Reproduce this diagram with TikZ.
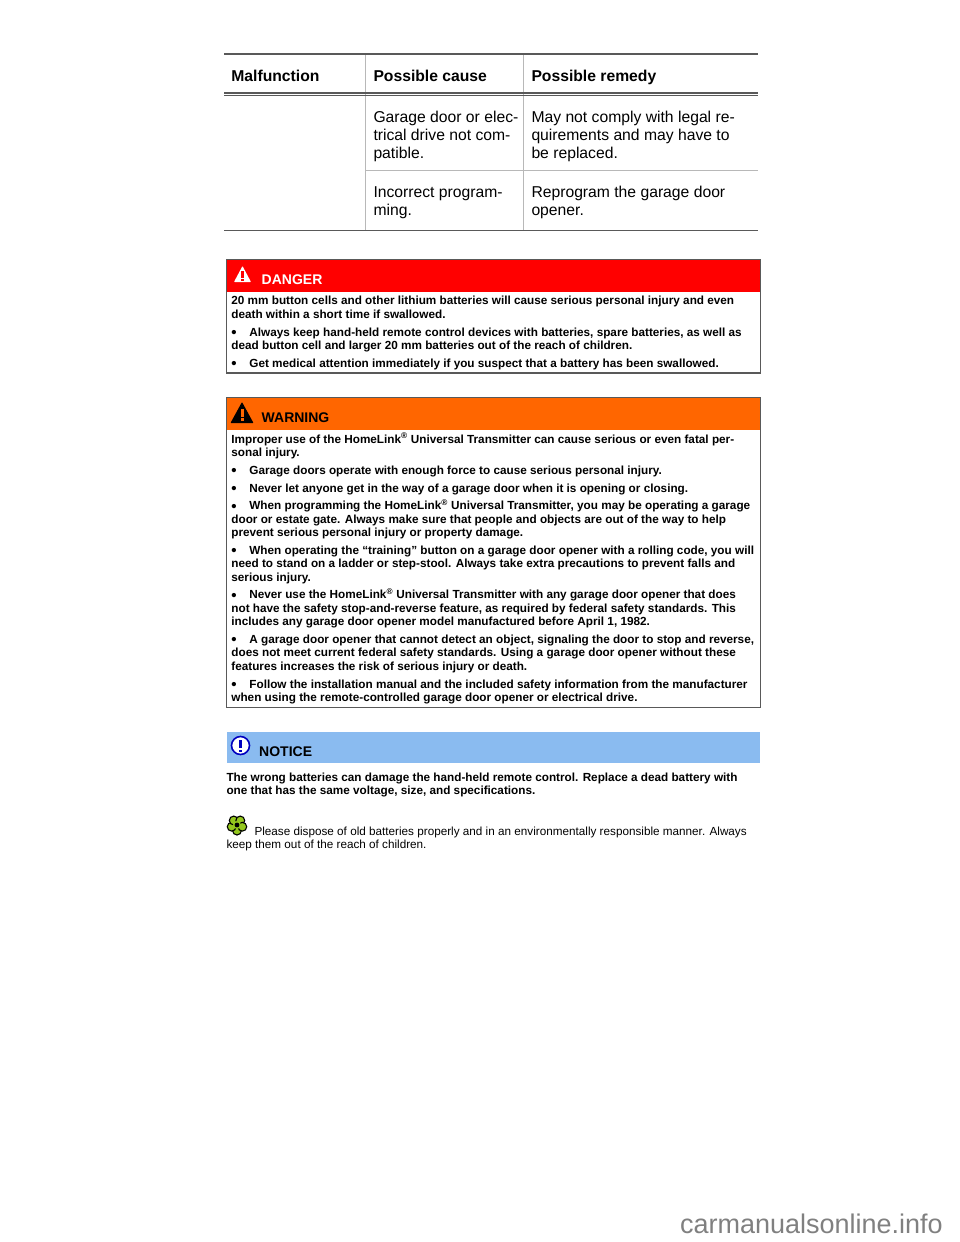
\documentclass[tikz,border=0pt]{standalone}
\usepackage{fontspec}
\setmainfont{Liberation Sans}
\definecolor{dangerred}{HTML}{FF0000}
\definecolor{warnorange}{HTML}{FF6600}
\definecolor{noticeblue}{HTML}{8ABBF0}
\definecolor{leafgreen}{HTML}{94C71E}
\newcommand{\bul}{\makebox[18pt][l]{\raisebox{-1.8pt}{\fontsize{15}{13.5}\selectfont\textbullet}}}
\newcommand{\regm}{\textsuperscript{\textregistered}}
\begin{document}
\begin{tikzpicture}[
	x=1pt,y=-1pt,
	tablehead/.style={anchor=base west,inner sep=0pt,font=\fontsize{15.7}{18}\selectfont\bfseries},
	tablecell/.style={anchor=base west,inner sep=0pt,align=left,font=\fontsize{15.7}{18}\selectfont},
	boxhead/.style={anchor=base west,inner sep=0pt,font=\fontsize{14}{16}\selectfont\bfseries},
	boldtext/.style={anchor=base west,inner sep=0pt,align=left,font=\fontsize{11.75}{13.5}\selectfont\bfseries},
	plaintext/.style={anchor=base west,inner sep=0pt,align=left,font=\fontsize{11.72}{13}\selectfont},
	strongline/.style={draw=black!65,line width=1.1pt},
	thinline/.style={draw=black!28,line width=1pt},
	boxline/.style={draw=black!65,line width=1.3pt},
	]
\useasboundingbox (0,0) rectangle (960,1242);

\draw[thinline] (365.8,54) -- (365.8,230);
\draw[thinline] (523.8,54) -- (523.8,230);
\draw[strongline] (224,54) -- (758,54);
\draw[strongline] (224,93) -- (758,93);
\draw[strongline] (224,95.5) -- (758,95.5);
\draw[thinline] (366,170.5) -- (758,170.5);
\draw[strongline] (224,230.5) -- (758,230.5);
\node [tablehead] (malfunction) at (231.2,81) {Malfunction};
\node [tablehead] (cause) at (373.3,81) {Possible cause};
\node [tablehead] (remedy) at (531.3,81) {Possible remedy};
\node [tablecell] (cause1) at (373.3,158) {Garage door or elec-\\trical drive not com-\\patible.};
\node [tablecell] (remedy1) at (531.3,158) {May not comply with legal re-\\quirements and may have to\\be replaced.};
\node [tablecell] (cause2) at (373.3,215) {Incorrect program-\\ming.};
\node [tablecell] (remedy2) at (531.3,215) {Reprogram the garage door\\opener.};

\fill[dangerred] (226.5,259.5) rectangle (760.5,291.5);
\draw[boxline] (226.5,259.5) rectangle (760.5,373);
\fill[white,rounded corners=0.6pt] (242.5,266) -- (251,282) -- (234,282) -- cycle;
\fill[dangerred] (241.3,271) rectangle (243.7,277.5);
\fill[dangerred] (241.3,278.5) rectangle (243.7,280.8);
\node [boxhead,text=white] (dangerhead) at (261.5,284) {DANGER};
\node [boldtext] (danger1) at (231.2,318) {20 mm button cells and other lithium batteries will cause serious personal injury and even\\death within a short time if swallowed.};
\node [boldtext] (danger2) at (231.2,349.5) {\bul Always keep hand-held remote control devices with batteries, spare batteries, as well as\\dead button cell and larger 20 mm batteries out of the reach of children.};
\node [boldtext] (danger3) at (231.2,367) {\bul Get medical attention immediately if you suspect that a battery has been swallowed.};

\fill[warnorange] (226.5,397.5) rectangle (760.5,430);
\draw[boxline] (226.5,397.5) rectangle (760.5,707.5);
\fill[black,rounded corners=0.6pt] (242,402) -- (253.5,423) -- (230.5,423) -- cycle;
\fill[warnorange] (240.7,409) rectangle (243.6,416.5);
\fill[warnorange] (240.7,418) rectangle (243.6,421);
\node [boxhead] (warninghead) at (261.5,422.5) {WARNING};
\node [boldtext] (warning1) at (231.2,456.5) {Improper use of the HomeLink\regm{} Universal Transmitter can cause serious or even fatal per-\\sonal injury.};
\node [boldtext] (warning2) at (231.2,474) {\bul Garage doors operate with enough force to cause serious personal injury.};
\node [boldtext] (warning3) at (231.2,492) {\bul Never let anyone get in the way of a garage door when it is opening or closing.};
\node [boldtext] (warning4) at (231.2,536.5) {\bul When programming the HomeLink\regm{} Universal Transmitter, you may be operating a garage\\door or estate gate. Always make sure that people and objects are out of the way to help\\prevent serious personal injury or property damage.};
\node [boldtext] (warning5) at (231.2,581) {\bul When operating the “training” button on a garage door opener with a rolling code, you will\\need to stand on a ladder or step-stool. Always take extra precautions to prevent falls and\\serious injury.};
\node [boldtext] (warning6) at (231.2,625.5) {\bul Never use the HomeLink\regm{} Universal Transmitter with any garage door opener that does\\not have the safety stop-and-reverse feature, as required by federal safety standards. This\\includes any garage door opener model manufactured before April 1, 1982.};
\node [boldtext] (warning7) at (231.2,670) {\bul A garage door opener that cannot detect an object, signaling the door to stop and reverse,\\does not meet current federal safety standards. Using a garage door opener without these\\features increases the risk of serious injury or death.};
\node [boldtext] (warning8) at (231.2,701.5) {\bul Follow the installation manual and the included safety information from the manufacturer\\when using the remote-controlled garage door opener or electrical drive.};

\fill[noticeblue] (227,732) rectangle (759.5,762.5);
\draw[draw=blue!75!black,line width=1.6pt,fill=white] (240.5,745.5) circle (9);
\fill[blue!75!black] (239.4,739.5) rectangle (241.6,748);
\fill[blue!75!black] (239.4,749.5) rectangle (241.6,752);
\node [boxhead] (noticehead) at (259,756) {NOTICE};
\node [boldtext] (notice1) at (226.3,794.5) {The wrong batteries can damage the hand-held remote control. Replace a dead battery with\\one that has the same voltage, size, and specifications.};

\foreach \ang in {90,162,234,306,18}
	\draw[black,line width=1.1pt,fill=leafgreen] (237,825) ++(\ang:5.6) circle (4.4);
\fill[leafgreen] (237,825) circle (4);
\fill[black] (237,825) circle (2.4);
\node [plaintext] (dispose) at (226.3,848.5) {\hspace{28pt}Please dispose of old batteries properly and in an environmentally responsible manner. Always\\keep them out of the reach of children.};

\node [anchor=base east,inner sep=0pt,text=black!50,font=\fontsize{27}{30}\selectfont] (watermark) at (943,1233) {carmanualsonline.info};
\end{tikzpicture}
\end{document}
